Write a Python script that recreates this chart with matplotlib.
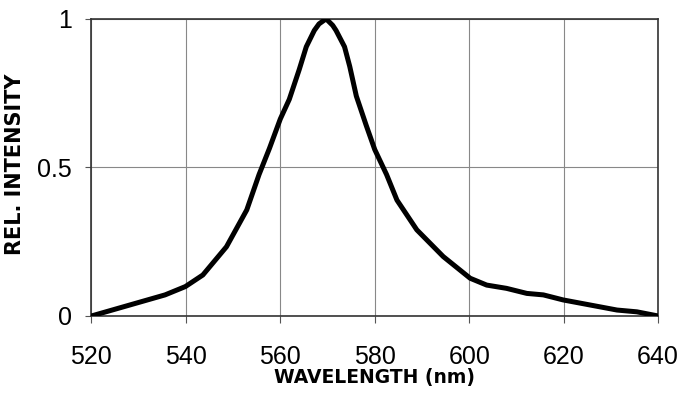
import matplotlib
matplotlib.use("Agg")
import matplotlib.pyplot as plt

wavelength = [520, 535.6, 539.9, 543.6, 548.6, 552.9, 555.5, 557.7, 560.0, 561.9, 564.0, 565.5, 567.2,
              568.2, 569.7, 571.1, 571.8, 573.6, 574.7, 576.1, 578.2, 580.0, 582.5, 584.7, 588.9,
              594.5, 600.2, 603.7, 607.9, 612.2, 615.7, 619.9, 625.6, 631.3, 635.5, 640]
intensity = [0.0, 0.071, 0.099, 0.138, 0.233, 0.357, 0.476, 0.564, 0.663, 0.729, 0.829, 0.906, 0.961,
             0.983, 1.0, 0.978, 0.961, 0.906, 0.84, 0.74, 0.641, 0.56, 0.476, 0.39, 0.29,
             0.2, 0.127, 0.104, 0.093, 0.076, 0.071, 0.054, 0.037, 0.02, 0.014, 0.0]
x_ticks = [520, 540, 560, 580, 600, 620, 640]
y_ticks = [0, 0.5, 1]
y_tick_labels = ["0", "0.5", "1"]

plt.rcParams['font.family'] = ['Liberation Sans', 'DejaVu Sans']

fig = plt.figure(figsize=(6.82, 4.01), dpi=100)
ax = fig.add_axes([0.134, 0.212, 0.831, 0.741])
ax.plot(wavelength, intensity, color='black', lw=3.6, solid_capstyle='round', solid_joinstyle='round', zorder=3)
ax.set_xlim(520, 640)
ax.set_ylim(0, 1)
ax.set_xticks(x_ticks)
ax.set_yticks(y_ticks)
ax.set_yticklabels(y_tick_labels)
ax.grid(True, color='#888888', lw=0.8)
for s in ax.spines.values():
    s.set_color('#333333')
    s.set_linewidth(1.2)
ax.tick_params(axis='x', length=5, width=0.8, color='#555555', labelsize=18, pad=16)
ax.tick_params(axis='y', length=4, width=0.8, color='#555555', labelsize=18, pad=10)
fig.text(0.549, 1 - 377 / 401, "WAVELENGTH (nm)", fontsize=13.5, fontweight='bold',
         family=['DejaVu Sans'], ha='center', va='center')
fig.text(15 / 682, 1 - 164 / 401, "REL. INTENSITY", fontsize=15, fontweight='bold',
         family=['DejaVu Sans'], ha='center', va='center', rotation=90)
fig.savefig("out.png", dpi=100)
